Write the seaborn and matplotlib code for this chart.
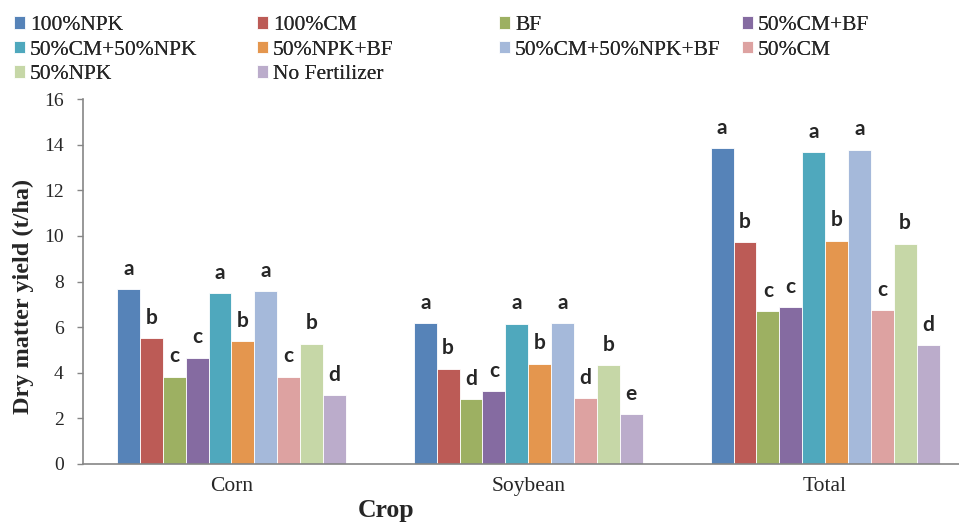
import pandas as pd
import matplotlib
matplotlib.use("Agg")
import matplotlib.pyplot as plt
import seaborn as sns

# === DATA ===
crops = ["Corn", "Soybean", "Total"]
treatments = ["100%NPK", "100%CM", "BF", "50%CM+BF", "50%CM+50%NPK",
              "50%NPK+BF", "50%CM+50%NPK+BF", "50%CM", "50%NPK", "No Fertilizer"]
corn = [7.65, 5.51, 3.83, 4.66, 7.48, 5.38, 7.58, 3.82, 5.27, 3.02]
soybean = [6.16, 4.18, 2.84, 3.19, 6.15, 4.39, 6.18, 2.89, 4.34, 2.19]
total = [13.84, 9.72, 6.70, 6.88, 13.67, 9.78, 13.77, 6.73, 9.65, 5.20]
corn_letters = ["a", "b", "c", "c", "a", "b", "a", "c", "b", "d"]
soybean_letters = ["a", "b", "d", "c", "a", "b", "a", "d", "b", "e"]
total_letters = ["a", "b", "c", "c", "a", "b", "a", "c", "b", "d"]

colors = ["#5683B8", "#BC5B56", "#9DB062", "#856BA1", "#4FA8BD",
          "#E4964E", "#A5B9DA", "#DDA2A1", "#C6D7A7", "#BBACCB"]

rows = []
for crop, vals in zip(crops, [corn, soybean, total]):
    for t, v in zip(treatments, vals):
        rows.append({"Crop": crop, "Treatment": t, "Yield": v})
df = pd.DataFrame(rows)

# === STYLE ===
sns.set_style("white")
plt.rcParams["font.family"] = ["Liberation Serif", "DejaVu Serif"]
axis_grey = "#868686"

fig = plt.figure(figsize=(9.59, 5.25), dpi=100)
ax = fig.add_axes([83 / 959, 1 - 464 / 525, 1 - 83 / 959, (464 - 99) / 525])

sns.barplot(data=df, x="Crop", y="Yield", hue="Treatment", hue_order=treatments,
            order=crops, palette=colors, saturation=1, width=0.771, gap=0,
            edgecolor="white", linewidth=0.6, legend=False, ax=ax)

# significance letters above bars
letters_by_crop = [corn_letters, soybean_letters, total_letters]
for i, cont in enumerate(ax.containers):
    labs = [letters_by_crop[j][i] for j in range(len(crops))]
    ax.bar_label(cont, labels=labs, padding=7.5, fontsize=15,
                 fontweight="bold", family=["Lato", "DejaVu Sans"])

ax.set_ylim(0, 16)
ax.set_yticks(range(0, 17, 2))
ax.set_xlim(-0.5, 2 + (959 - 825) / 297)

for s in ["top", "right"]:
    ax.spines[s].set_visible(False)
for s in ["left", "bottom"]:
    ax.spines[s].set_color(axis_grey)
    ax.spines[s].set_linewidth(1.2)

ax.tick_params(axis="y", direction="out", length=4.5, width=1.0, color=axis_grey,
               labelsize=14, pad=9.5, left=True)
ax.tick_params(axis="x", length=0, labelsize=15.5, pad=9.5)

ax.set_ylabel("Dry matter yield (t/ha)", fontsize=17.5, fontweight="bold")
ax.yaxis.set_label_coords(-0.056, 0.459)
ax.set_xlabel("Crop", fontsize=18.5, fontweight="bold")
ax.xaxis.set_label_coords(0.346, -0.095)

# legend: four fixed-width columns, filled row by row like the original
handles = [cont.patches[0] for cont in ax.containers]
col_x = [14, 257, 499, 742]
for c, x0 in enumerate(col_x):
    idx = list(range(c, len(treatments), 4))
    leg = fig.legend([handles[k] for k in idx], [treatments[k] for k in idx],
                     loc="upper left", bbox_to_anchor=(x0 / 959, 1 - 16 / 525),
                     frameon=False, fontsize=15.5, handlelength=0.52,
                     handleheight=0.52, handletextpad=0.23, labelspacing=0.26,
                     borderpad=0, borderaxespad=0)
    fig.add_artist(leg)

fig.savefig("out.png", dpi=100)
